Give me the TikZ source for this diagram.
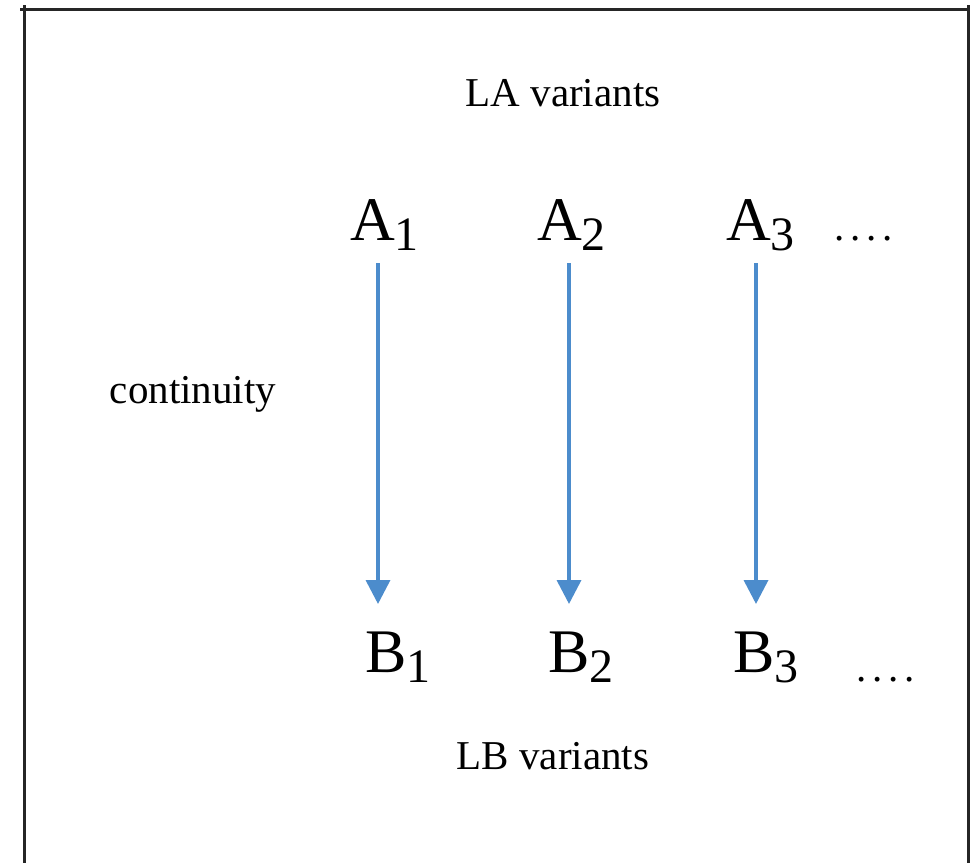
\documentclass[tikz,border=0pt]{standalone}
\usepackage{fontspec}
\setmainfont{Liberation Serif}
\usetikzlibrary{arrows.meta}
\definecolor{arrblue}{RGB}{76,140,204}
\newcommand\mysub[1]{\raisebox{-10pt}{\fontsize{48}{48}\selectfont #1}}
\newcommand\mydots{.\kern6pt.\kern6pt.\kern6pt.}
\tikzset{
  frame/.style={line width=3pt, draw=black!85},
  lbl/.style={font=\fontsize{41}{41}\selectfont, anchor=base, inner sep=0pt},
  var/.style={font=\fontsize{62}{62}\selectfont, anchor=base west, inner sep=0pt},
  dots/.style={font=\fontsize{41}{41}\selectfont, anchor=base west, inner sep=0pt},
  arr/.style={draw=arrblue, line width=3.6pt, -{Triangle[width=24pt,length=24pt]}}
}
\begin{document}
\begin{tikzpicture}[x=1pt,y=-1pt]
\useasboundingbox (0,0) rectangle (980,863);
\draw[frame] (20,9) -- (969,9);
\draw[frame] (24,5) -- (24,863);
\draw[frame] (968,5) -- (968,863);

\node[lbl] (la) at (563,106) {LA variants};
\node[lbl] (lb) at (553,769) {LB variants};
\node[lbl] (cont) at (193,403) {continuity};

\node[var] (a1) at (350,240) {A\mysub{1}};
\node[var] (a2) at (537,240) {A\mysub{2}};
\node[var] (a3) at (726,240) {A\mysub{3}};
\node[dots] (ad) at (834,240) {\mydots};

\node[var] (b1) at (365,672) {B\mysub{1}};
\node[var] (b2) at (548,672) {B\mysub{2}};
\node[var] (b3) at (733,672) {B\mysub{3}};
\node[dots] (bd) at (856,681) {\mydots};

\coordinate (s1) at (378,263); \coordinate (e1) at (378,604);
\coordinate (s2) at (569,263); \coordinate (e2) at (569,604);
\coordinate (s3) at (756,263); \coordinate (e3) at (756,604);
\draw[arr] (s1) -- (e1);
\draw[arr] (s2) -- (e2);
\draw[arr] (s3) -- (e3);
\end{tikzpicture}
\end{document}
